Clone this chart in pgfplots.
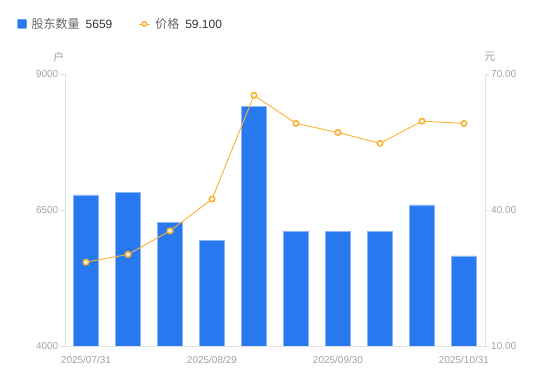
\documentclass[border=0pt]{standalone}
\usepackage{pgfplots}
\pgfplotsset{compat=1.18}
\usepackage{fontspec}
\setmainfont{Liberation Sans}
\newfontfamily\cjk{Noto Sans CJK SC}
\definecolor{barblue}{RGB}{40,120,240}
\definecolor{baredge}{RGB}{140,182,246}
\definecolor{lineor}{RGB}{250,178,50}
\definecolor{axgray}{RGB}{224,224,230}
\definecolor{txgray}{RGB}{160,160,175}
\definecolor{lgname}{RGB}{102,102,102}
\definecolor{lgval}{RGB}{51,51,51}
\begin{document}
\begin{tikzpicture}
\useasboundingbox (0,0) rectangle (550pt,381pt);
\begin{axis}[
 at={(65pt,35pt)}, anchor=south west,
 width=420pt, height=272pt, scale only axis,
 xmin=-0.5, xmax=9.5, ymin=4000, ymax=9000,
 axis y line*=left, axis x line*=bottom,
 axis line style={-, draw=axgray, line width=0.8pt},
 ytick={4000,6500,9000},
 xtick={0,3,6,9},
 xticklabels={2025/07/31,2025/08/29,2025/09/30,2025/10/31},
 x tick style={draw=none},
 y tick style={draw=axgray, line width=0.8pt},
 tick align=outside, major tick length=5pt,
 ticklabel style={font=\fontsize{10}{12}\selectfont, text=txgray},
 /pgf/number format/assume math mode=true,
 /pgf/number format/set thousands separator={},
 yticklabel style={inner sep=1.5pt},
 xticklabel style={inner sep=1pt, yshift=-4pt},
 clip mode=individual,
]
\addplot[ybar, bar width=25pt, fill=barblue, draw=baredge, line width=0.5pt] coordinates {
 (0,6776) (1,6825) (2,6267) (3,5942) (4,8399)
 (5,6101) (6,6108) (7,6101) (8,6592) (9,5659)
};
\node[text=txgray, font=\cjk\fontsize{11}{12}\selectfont] at (rel axis cs:0,1) [xshift=-6pt, yshift=17pt] {户};
\node[text=txgray, font=\cjk\fontsize{11}{12}\selectfont] at (rel axis cs:1,1) [xshift=5pt, yshift=17pt] {元};
\end{axis}
\begin{axis}[
 at={(65pt,35pt)}, anchor=south west,
 width=420pt, height=272pt, scale only axis,
 xmin=-0.5, xmax=9.5, ymin=10, ymax=70,
 axis y line*=right, axis x line=none,
 axis line style={-, draw=axgray, line width=0.8pt},
 ytick={10,40,70},
 y tick style={draw=axgray, line width=0.8pt},
 tick align=outside, major tick length=4pt,
 ticklabel style={font=\fontsize{10}{12}\selectfont, text=txgray},
 /pgf/number format/assume math mode=true,
 yticklabel style={/pgf/number format/.cd, fixed, fixed zerofill, precision=2, /tikz/.cd, inner sep=2pt},
 clip=false,
 legend columns=2,
 legend style={at={(-0.114,1.184)}, anchor=west, draw=none, fill=none, inner sep=0pt,
   nodes={inner sep=0pt, anchor=west},
   font=\fontsize{12}{14}\selectfont,
   /tikz/every odd column/.append style={column sep=5pt},
   /tikz/every even column/.append style={column sep=26pt}},
]
\addlegendimage{legend image code/.code={\fill[barblue, rounded corners=1pt] (0pt,-4.5pt) rectangle (9pt,4.5pt);}}
\addlegendentry{\textcolor{lgname}{\cjk 股东数量}\hspace{6pt}\textcolor{lgval}{5659}}
\addplot[lineor, line width=0.9pt, mark=*, mark size=2.7pt, mark options={fill=white, draw=lineor, line width=1.6pt},
 legend image code/.code={\draw[lineor, line width=0.9pt] (0pt,0pt) -- (11pt,0pt); \draw[lineor, fill=white, line width=1.5pt] (5.5pt,0pt) circle (2.3pt);}] coordinates {
 (0,28.5) (1,30.2) (2,35.4) (3,42.4) (4,65.3)
 (5,59.1) (6,57.1) (7,54.7) (8,59.6) (9,59.1)
};
\addlegendentry{\textcolor{lgname}{\cjk 价格}\hspace{6pt}\textcolor{lgval}{59.100}}
\end{axis}
\end{tikzpicture}
\end{document}
